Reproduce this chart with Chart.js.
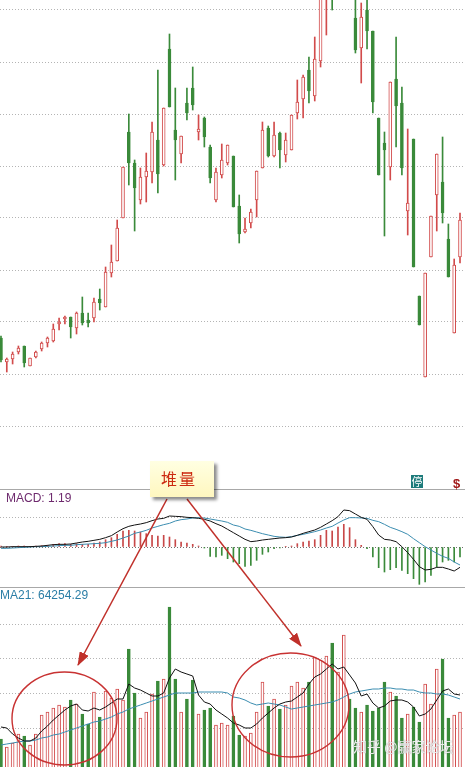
<!DOCTYPE html>
<html>
<head>
<meta charset="utf-8">
<script src="https://cdn.jsdelivr.net/npm/chart.js@4.4.1/dist/chart.umd.min.js"></script>
<style>
  html,body{margin:0;padding:0;background:#fff;}
  body{width:465px;height:767px;overflow:hidden;position:relative;}
  canvas{position:absolute;left:0;z-index:1;}
  .sep{position:absolute;left:0;width:465px;height:1px;background:#a8a8a8;z-index:2;}
  .lbl{position:absolute;font-family:"Liberation Sans",Arial,sans-serif;font-size:12px;line-height:12px;white-space:nowrap;z-index:3;}
</style>
</head>
<body>
<canvas id="cK" width="465" height="489" style="top:0"></canvas>
<canvas id="cM" width="465" height="98" style="top:489px"></canvas>
<canvas id="cV" width="465" height="182" style="top:588px"></canvas>
<div class="sep" style="top:489px"></div>
<div class="sep" style="top:587px"></div>
<div class="lbl" style="left:6px;top:492px;color:#6e2a6e">MACD: 1.19</div>
<div class="lbl" style="left:0;top:589px;color:#2b7ea6">MA21: 64254.29</div>
<div style="position:absolute;left:411px;top:475px;width:12px;height:13px;background:#1e7b7b;color:#fff;font:11px/13px 'Noto Sans CJK SC',sans-serif;text-align:center;z-index:3">停</div>
<div style="position:absolute;left:453px;top:477px;color:#a01818;font:bold 13px/13px 'Liberation Sans',sans-serif;z-index:3">$</div>
<svg width="465" height="767" style="position:absolute;left:0;top:0;z-index:4">
  <defs>
    <marker id="ah" markerWidth="14" markerHeight="10" refX="13" refY="5" orient="auto" markerUnits="userSpaceOnUse">
      <path d="M0,0 L14,5 L0,10 z" fill="#c0302a"/>
    </marker>
  </defs>
  <line x1="167" y1="499" x2="78" y2="665" stroke="#c0302a" stroke-width="1.5" marker-end="url(#ah)"/>
  <line x1="187" y1="499" x2="301" y2="646" stroke="#c0302a" stroke-width="1.5" marker-end="url(#ah)"/>
  <ellipse cx="64.5" cy="718.5" rx="52.5" ry="46.5" fill="none" stroke="#c83232" stroke-width="1.4"/>
  <ellipse cx="290.5" cy="705" rx="58.5" ry="52" fill="none" stroke="#c83232" stroke-width="1.4"/>
</svg>
<div style="position:absolute;left:150px;top:461px;width:64px;height:36px;background:linear-gradient(#ffffe2,#fff7bf);box-shadow:3px 3px 3px rgba(0,0,0,0.45);z-index:5;color:#cc2a10;font-family:'Noto Sans CJK SC',sans-serif;font-size:16px;line-height:34px;letter-spacing:2px;padding-left:11px;box-sizing:border-box">堆量</div>
<div style="position:absolute;left:353px;top:739px;font-family:'Noto Sans CJK SC',sans-serif;font-size:14px;line-height:14px;color:rgba(255,255,255,0.85);text-shadow:0 0 1px rgba(110,110,110,0.9);z-index:6;white-space:nowrap">知乎 @赢家论坛</div>
<script>
// ---------------- DATA ----------------
const openP  = [10.2,7.8,8.1,8.8,9.4,7.4,8.3,9.1,9.7,9.9,11.6,12.1,12.3,11.2,12.7,12.0,12.2,14.1,13.3,16.7,17.9,22.2,30.8,27.7,24.0,26.3,26.8,30.0,27.5,39.1,31.0,28.6,33.7,35.2,30.8,32.2,29.3,24.0,26.5,27.7,28.4,23.4,20.8,21.7,24.0,27.2,31.2,28.4,30.7,28.5,29.0,32.7,34.1,37.0,34.4,37.9,44.5,47.0,48.0,47.0,48.0,42.2,39.2,43.0,40.9,32.2,29.7,27.3,36.1,33.7,22.9,30.1,14.4,6.3,18.3,24.5,25.8,20.1,10.7,18.3];
const highP  = [10.4,8.2,8.8,9.4,9.4,8.2,8.9,9.8,10.3,11.6,12.2,12.4,12.3,12.8,14.3,12.7,14.2,15.1,17.3,19.5,22.0,27.3,32.6,28.0,27.2,28.7,31.8,37.0,33.2,40.6,35.2,30.4,35.2,37.3,32.5,32.3,29.5,27.2,29.6,29.5,28.4,24.5,22.2,23.1,26.9,31.8,31.4,31.8,30.8,30.7,32.5,36.0,36.5,38.3,40.3,46.5,51.0,48.0,53.0,53.0,50.0,44.5,43.7,44.5,40.9,32.2,30.8,35.8,40.3,35.3,31.1,30.1,14.4,16.7,22.4,28.6,30.3,21.6,18.1,22.7];
const lowP   = [7.8,6.8,7.6,8.6,7.3,7.4,8.2,8.9,9.3,9.8,11.0,11.6,10.2,10.6,11.5,11.3,11.8,13.0,13.3,16.3,17.9,22.2,25.5,20.9,23.6,23.8,25.7,24.7,27.4,33.3,26.0,27.7,32.0,33.0,30.0,29.3,25.7,23.8,26.2,27.5,23.3,19.7,20.7,21.2,22.3,27.2,28.3,28.3,27.2,27.8,29.0,32.1,32.2,33.7,33.9,37.3,40.5,43.0,46.0,46.0,44.2,38.7,35.7,39.1,32.7,26.5,20.4,26.0,29.3,26.5,20.5,17.3,11.5,6.3,18.3,20.9,21.7,16.3,10.7,17.7];
const closeP = [8.0,8.1,8.6,9.2,7.7,8.2,8.8,9.7,10.2,11.1,11.8,12.3,11.3,12.7,11.7,11.7,13.8,13.7,16.8,17.8,21.2,27.3,27.7,25.2,26.3,26.9,30.8,26.6,33.2,33.3,30.0,30.4,32.7,33.5,31.1,30.3,26.2,26.8,28.0,29.5,23.3,20.6,21.1,22.8,26.9,31.0,28.4,30.5,29.0,30.0,32.5,33.8,36.3,34.9,38.1,46.0,50.0,44.5,52.0,51.0,45.0,39.0,42.3,40.9,33.8,26.5,29.0,35.8,33.4,27.2,23.7,17.3,11.5,16.7,22.4,28.6,22.7,16.3,17.5,22.0];
const priceGrid = [43.0,37.8,32.6,27.4,22.2,17.0,11.8,6.6,1.4];

const macdDIF  = [0,0,0.01,0.01,0.01,0.01,0.02,0.03,0.05,0.07,0.08,0.08,0.09,0.12,0.15,0.17,0.20,0.23,0.28,0.34,0.45,0.55,0.62,0.66,0.69,0.73,0.79,0.84,0.86,0.93,0.92,0.91,0.89,0.88,0.86,0.83,0.78,0.70,0.63,0.53,0.43,0.33,0.23,0.16,0.18,0.21,0.23,0.25,0.27,0.28,0.30,0.35,0.41,0.46,0.51,0.59,0.69,0.79,0.91,1.11,1.09,0.99,0.89,0.83,0.61,0.36,0.23,0.21,0.16,0.01,-0.17,-0.37,-0.59,-0.69,-0.67,-0.61,-0.61,-0.66,-0.72,-0.61];
const macdDEA  = [-0.04,-0.04,-0.03,-0.02,-0.01,0,0.01,0.01,0.02,0.03,0.04,0.05,0.05,0.07,0.08,0.09,0.10,0.11,0.13,0.17,0.21,0.27,0.33,0.41,0.45,0.50,0.57,0.62,0.67,0.71,0.78,0.82,0.84,0.87,0.88,0.87,0.84,0.81,0.78,0.74,0.66,0.62,0.54,0.50,0.45,0.40,0.36,0.32,0.30,0.29,0.31,0.35,0.38,0.42,0.46,0.51,0.57,0.62,0.72,0.81,0.88,0.88,0.87,0.86,0.80,0.76,0.68,0.59,0.53,0.46,0.38,0.25,0.13,0.01,-0.09,-0.19,-0.28,-0.34,-0.45,-0.54];
const macdHist = [0.03,0.02,0.02,0.03,0.03,0.02,0.03,0.04,0.05,0.08,0.10,0.10,0.08,0.10,0.08,0.08,0.12,0.15,0.22,0.28,0.38,0.48,0.50,0.48,0.45,0.40,0.35,0.33,0.35,0.30,0.22,0.15,0.12,0.08,0.03,-0.03,-0.28,-0.30,-0.25,-0.35,-0.45,-0.50,-0.58,-0.55,-0.40,-0.22,-0.15,-0.05,-0.03,0.01,0.03,0.10,0.15,0.18,0.22,0.35,0.50,0.48,0.60,0.68,0.58,0.22,0.05,-0.05,-0.30,-0.62,-0.75,-0.68,-0.62,-0.70,-0.80,-0.95,-1.12,-1.05,-0.85,-0.60,-0.45,-0.40,-0.45,-0.30];
const macdGrid = [0.88, 0];

const volume = [27900,20700,24300,32400,30600,22500,32400,49500,52200,55800,58500,56700,63000,59400,50400,41400,70200,47700,71100,64800,72900,63000,108900,69300,46800,52200,68400,80100,81900,146700,81900,52200,63900,81000,50400,54000,55800,40500,42300,40500,48600,31500,30600,33300,52200,79200,57600,63900,54900,58500,75600,79200,73800,79200,101700,99000,102600,114300,88200,121500,63900,55800,52200,58500,53100,55800,79200,70200,66600,46800,50400,56700,43200,77400,59400,90900,99900,46800,49500,52200];
const volMA5 = [38700,37800,32400,28800,26100,26100,28800,35100,39600,45000,49500,54000,57600,59400,54000,53100,55800,54000,56700,60300,63900,63900,77400,73800,72000,69300,66600,66600,69300,82800,90900,88200,86400,84600,67500,61200,59400,54000,50400,46800,42300,40500,37800,37800,41400,46800,51300,55800,59400,61200,62100,65700,69300,77400,83700,86400,90900,95400,90900,92700,85500,78300,66600,68400,60300,55800,57600,62100,63000,63000,61200,56700,48600,50400,54900,63000,71100,72900,68400,67500];
const volMA21 = [22500,23400,24300,25200,26100,26100,27000,28800,29700,31500,32400,34200,36000,37800,39600,41400,43200,44100,45900,47700,50400,52200,54900,56700,58500,60300,62100,63900,65700,67500,69300,69300,69300,69300,70200,70200,70200,70200,70200,69300,65700,64800,63000,60300,58500,59400,60300,59400,58500,56700,54900,55800,56700,57600,58500,59400,60300,61200,63000,65700,68400,70200,71100,72000,72900,72900,73800,73800,72900,72900,72000,72000,70200,69300,69300,68400,68400,67500,65700,63900];
const volGrid = [37500, 69000, 100500, 131000];

// ---------------- STYLE ----------------
const RED = '#d24b4b', GREEN = '#3a8a3a', GRID = '#b4b4b4', TEAL = '#3b8db0';
const X_MIN = -0.17, X_MAX = 79.86;
const idx = openP.map((_, i) => i);
const up = i => closeP[i] >= openP[i];

function xAxis(){ return {type:'linear', min:X_MIN, max:X_MAX, offset:false, display:false}; }
function yAxis(min, max, gridVals, colorFn){
  return {
    min, max, display:true,
    ticks:{display:false},
    grid:{drawTicks:false, color: colorFn || GRID, lineWidth:1},
    border:{display:false, dash:[1,2]},
    afterBuildTicks: s => { s.ticks = gridVals.map(v => ({value:v})); }
  };
}
const common = {
  responsive:false, animation:false, events:[],
  devicePixelRatio:1,
  layout:{padding:0},
  plugins:{legend:{display:false}, tooltip:{enabled:false}}
};

// Candles
new Chart(document.getElementById('cK'), {
  type:'bar',
  data:{datasets:[
    {data: idx.map(i => ({x:i, y:[lowP[i], highP[i]]})), backgroundColor: idx.map(i => up(i)?RED:GREEN),
     borderWidth:0, barThickness:1, grouped:false, order:2, clip:0},
    {data: idx.map(i => ({x:i, y:[openP[i], closeP[i]]})), backgroundColor: idx.map(i => up(i)?'#ffffff':GREEN),
     borderColor: idx.map(i => up(i)?RED:GREEN), borderWidth:1, borderSkipped:false, barThickness:3, grouped:false, order:1, clip:0}
  ]},
  options: Object.assign({}, common, {scales:{x:xAxis(), y:yAxis(-4.9, 44, priceGrid)}})
});

// MACD
new Chart(document.getElementById('cM'), {
  type:'bar',
  data:{datasets:[
    {data: idx.map(i => ({x:i, y:macdHist[i]})), backgroundColor: idx.map(i => macdHist[i] >= 0 ? '#c84848' : GREEN),
     borderWidth:0, barThickness:1, grouped:false, order:3},
    {type:'line', data: idx.map(i => ({x:i, y:macdDIF[i]})), borderColor:'#111', borderWidth:1, pointRadius:0, tension:0, order:1},
    {type:'line', data: idx.map(i => ({x:i, y:macdDEA[i]})), borderColor:TEAL, borderWidth:1, pointRadius:0, tension:0, order:2}
  ]},
  options: Object.assign({}, common, {scales:{x:xAxis(), y:yAxis(-1.20, 1.74, macdGrid, c => (c.tick && c.tick.value === 0) ? '#707070' : GRID)}})
});

// Volume
new Chart(document.getElementById('cV'), {
  type:'bar',
  data:{datasets:[
    {data: idx.map(i => ({x:i, y:volume[i]})), backgroundColor: idx.map(i => up(i)?'#ffffff':GREEN),
     borderColor: idx.map(i => up(i)?RED:GREEN), borderWidth:1, borderSkipped:false, barThickness:3, grouped:false, order:3},
    {type:'line', data: idx.map(i => ({x:i, y:volMA5[i]})), borderColor:'#111', borderWidth:1, pointRadius:0, tension:0, order:1},
    {type:'line', data: idx.map(i => ({x:i, y:volMA21[i]})), borderColor:TEAL, borderWidth:1, pointRadius:0, tension:0, order:2}
  ]},
  options: Object.assign({}, common, {scales:{x:xAxis(), y:yAxis(0, 163800, volGrid)}})
});
</script>
</body>
</html>
